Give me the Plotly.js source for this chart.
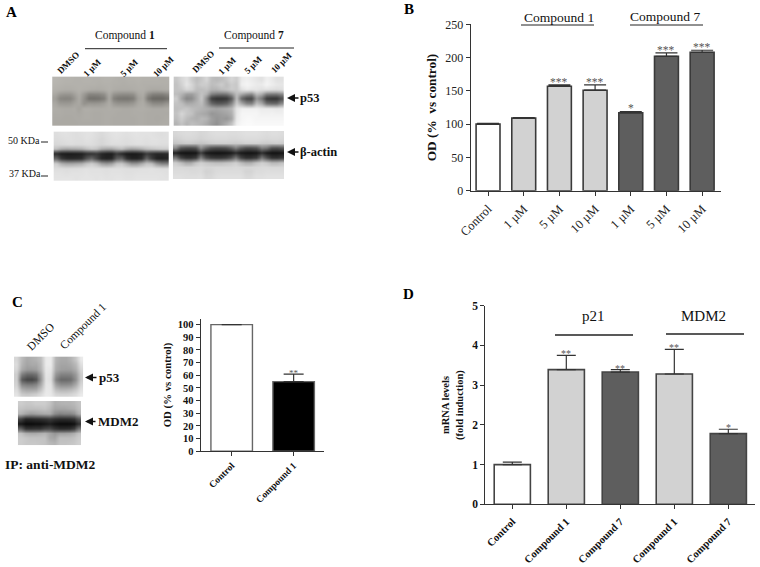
<!DOCTYPE html>
<html><head><meta charset="utf-8">
<script src="https://cdn.plot.ly/plotly-3.0.1.min.js"></script>
<style>html,body{margin:0;padding:0;background:#fff}</style></head>
<body><div id="chart" style="width:760px;height:567px"></div>
<script>
// ---------- Panel B ----------
const labelsB = ['Control','1 µM','5 µM','10 µM','1 µM','5 µM','10 µM'];
const valuesB = [100,109,157,151,117,202,208];
const errorsB = [1,1,2,8,2,5,3];
const starsB  = ['','','***','***','*','***','***'];
const colorsB = ['#ffffff','#d2d2d2','#d2d2d2','#d2d2d2','#5e5e5e','#5e5e5e','#5e5e5e'];
// ---------- Panel C ----------
const labelsC = ['Control','Compound 1'];
const valuesC = [100,55];
const errorsC = [0,6];
const starsC  = ['','**'];
const colorsC = ['#ffffff','#000000'];
// ---------- Panel D ----------
const labelsD = ['Control','Compound 1','Compound 7','Compound 1','Compound 7'];
const valuesD = [1,3.39,3.33,3.28,1.78];
const errorsD = [0.06,0.36,0.06,0.62,0.11];
const starsD  = ['','**','**','**','*'];
const colorsD = ['#ffffff','#d2d2d2','#5e5e5e','#d2d2d2','#5e5e5e'];

// ---------- Blot densities, read by eye (0 = black, 255 = white) ----------
const blotP53C1 = [
[182,180,178,178,176,176,178,178,176,176,178,178,176,174,174,176,176,178,176,176,176,176,174,176],
[180,178,176,176,176,176,176,176,176,174,176,176,174,174,172,174,174,176,174,174,174,174,174,174],
[176,174,172,172,174,176,174,172,170,170,172,176,172,170,170,170,172,174,174,170,168,168,170,172],
[166,150,146,146,158,172,150,128,128,130,140,170,145,138,136,136,140,166,170,138,124,122,122,132],
[156,128,124,126,146,168,138,104,102,106,118,166,122,110,108,108,116,158,166,112,94,92,92,104],
[166,150,148,150,160,166,140,148,146,148,156,170,150,142,142,142,148,166,170,150,134,132,134,146],
[172,170,168,168,170,160,172,172,170,170,170,172,170,170,168,168,170,172,172,170,168,168,168,170],
[170,170,168,168,168,166,170,170,168,168,170,170,170,168,168,168,170,170,170,168,168,168,168,168],
[168,168,166,166,168,168,170,170,168,168,170,170,168,168,168,168,168,170,170,168,168,166,168,170],
[166,166,166,166,166,168,168,168,168,168,170,170,168,168,168,168,168,170,170,168,168,168,170,170]];
const blotP53C7 = [
[200,215,225,205,190,200,215,190,185,190,200,215,205,235,240,235,230,225,240,235,225,225],
[195,210,230,215,195,205,205,190,195,205,190,205,200,240,245,240,235,235,245,238,232,230],
[195,200,215,210,190,190,195,180,180,190,195,205,200,225,235,230,230,225,228,225,222,225],
[190,180,160,158,175,195,178,130,120,118,122,150,190,170,150,140,190,175,130,125,125,140],
[205,165,135,140,170,200,140,62,50,50,55,90,190,105,75,70,150,120,60,52,52,80],
[195,190,170,172,180,190,150,105,90,90,100,135,205,170,135,130,190,170,115,105,105,140],
[190,195,200,190,185,180,175,170,165,170,175,185,230,240,240,240,240,235,235,235,232,235],
[195,215,200,195,175,170,165,150,155,160,165,175,232,245,245,245,245,240,240,242,240,240],
[190,205,190,180,175,185,180,160,150,155,150,165,235,245,248,248,245,245,245,245,245,245],
[180,195,180,190,185,180,170,155,145,160,175,195,240,248,250,250,248,248,248,248,248,248]];
const blotActinC1 = [
[222,225,226,224,222,224,226,226,222,218,222,226,228,226,224,226,228,226,226,226,224,222,224],
[220,222,224,224,222,222,226,224,220,214,220,224,226,224,222,224,226,226,224,226,226,224,224],
[216,218,220,222,220,220,222,222,218,214,218,222,222,222,220,222,224,224,222,224,224,222,222],
[190,170,165,168,170,175,190,200,195,172,165,165,180,190,170,160,165,175,190,195,200,205,205],
[45,30,28,28,30,32,48,50,58,40,32,30,58,42,28,26,28,34,60,48,40,40,42],
[100,55,42,40,42,46,82,105,70,40,34,38,90,100,50,34,34,44,100,60,34,30,34],
[205,175,165,165,170,175,195,205,190,160,150,160,195,200,175,150,150,170,195,190,150,130,130],
[222,222,220,222,222,224,226,224,224,224,222,224,224,224,222,222,222,224,224,226,224,222,222],
[226,226,224,226,226,226,228,226,226,226,224,226,226,226,224,224,226,226,226,226,226,226,224],
[228,228,228,228,226,228,228,228,226,228,226,226,228,228,226,226,228,228,228,228,228,226,226]];
const blotActinC7 = [
[215,218,220,220,218,214,216,220,222,222,222,220,220,222,224,224,224,222,220,222,222,220],
[208,212,216,216,214,210,214,216,218,218,218,216,216,218,220,220,220,218,216,218,218,216],
[195,198,202,202,198,196,198,204,206,206,206,204,202,204,208,208,208,204,202,204,206,204],
[140,90,80,78,85,145,110,85,78,78,82,100,130,100,82,80,88,130,120,85,82,92],
[35,22,20,20,22,65,30,22,20,20,22,26,45,26,22,20,24,48,28,20,20,24],
[120,68,50,48,60,130,80,60,55,55,62,80,120,70,50,50,62,120,80,52,50,60],
[205,190,170,170,195,208,200,195,190,190,195,200,208,190,175,175,195,208,200,185,185,195],
[216,216,214,214,216,218,214,214,216,216,216,216,218,216,214,214,216,218,218,216,216,216],
[220,220,220,218,218,220,210,212,218,220,220,220,220,220,212,212,220,220,222,222,222,222],
[224,224,222,222,222,224,216,216,222,224,224,224,224,224,218,218,224,224,226,226,226,226]];
const blotIpP53 = [
[215,185,170,175,180,190,235,235,180,170,170,180,200,235],
[220,180,165,170,170,185,235,235,175,165,165,170,185,225],
[215,170,155,155,160,180,232,230,170,160,158,160,175,215],
[205,125,105,105,115,160,230,225,150,130,130,132,155,205],
[205,90,70,68,85,150,228,222,130,105,105,110,145,205],
[210,135,125,125,135,170,230,228,160,140,140,145,170,215],
[220,175,165,165,170,195,232,230,190,180,180,185,200,225],
[228,205,200,205,210,220,235,232,215,212,212,215,222,235]];
const blotIpMdm2 = [
[205,200,200,205,205,205,195,175,178,180,180,185,195],
[195,190,190,190,192,195,185,165,165,165,170,175,190],
[180,165,155,160,165,170,170,140,130,135,135,145,175],
[70,40,42,45,48,52,60,50,45,45,48,55,90],
[25,12,12,15,15,22,30,18,12,12,12,18,50],
[100,55,52,55,55,70,75,55,45,45,48,65,120],
[195,175,170,170,175,180,165,150,160,160,165,175,195],
[205,200,195,195,195,195,170,165,190,190,190,195,205],
[205,200,200,200,198,195,185,180,195,195,198,200,208]];
const grey  = [[0,'#000000'],[1,'#ffffff']];
const warm  = [[0,'#1a1814'],[1,'#f8f6f0']];

// ---------- page text ----------
const panelLetters = [['A',11,12],['B',409,9],['C',17,302],['D',408,294]];

const xd=(l,r)=>[l/760,r/760], yd=(t,b)=>[1-b/567,1-t/567];
const axFont=(size,bold)=>({family:'"Liberation Serif",serif',size:size,color:bold?'#111':'#222',weight:bold?700:400});

function bars(labels,values,errors,colors,xa,ya,capw,lw,lc){
  return {type:'bar',x:labels.map((_,i)=>i),y:values,xaxis:xa,yaxis:ya,width:0.67,showlegend:false,
    marker:{color:colors,line:{color:lc,width:lw}},
    error_y:{type:'data',symmetric:false,array:errors,arrayminus:errors.map(()=>0),color:'#333',thickness:1.2,width:capw}};
}
function blot(z,x0,dx,y0,dy,cs){
  return {type:'heatmap',z:z,x0:x0,dx:dx,y0:y0,dy:dy,xaxis:'x4',yaxis:'y4',zmin:0,zmax:255,colorscale:cs,showscale:false,zsmooth:'best',hoverinfo:'skip'};
}
const data=[
  bars(labelsB,valuesB,errorsB,colorsB,'x','y',11,1.6,'#3a3a3a'),
  bars(labelsC,valuesC,errorsC,colorsC,'x2','y2',10,1.4,'#666'),
  bars(labelsD,valuesD,errorsD,colorsD,'x3','y3',9.5,1.6,'#444'),
  blot(blotP53C1,54.7,4.88,79.1,4.86,warm),
  blot(blotP53C7,176.2,5,79.1,4.86,grey),
  blot(blotActinC1,56.2,4.98,134.1,4.85,grey),
  blot(blotActinC7,175.5,5.03,133.4,4.8,grey),
  blot(blotIpP53,16.5,4.9,359.2,5,grey),
  blot(blotIpMdm2,20.4,4.87,403.5,4.92,grey)
];

const ann=[];
function page(text,x,y,size,opt){
  ann.push(Object.assign({xref:'x4',yref:'y4',x:x,y:y,text:text,showarrow:false,xanchor:'center',yanchor:'middle',
    font:{family:'"Liberation Serif",serif',size:size,color:'#111'}},opt||{}));
}
function arrow(x0,x1,y){
  ann.push({xref:'x4',yref:'y4',axref:'x4',ayref:'y4',x:x0,y:y,ax:x1,ay:y,text:'',showarrow:true,arrowhead:2,arrowsize:1,arrowwidth:1.6,arrowcolor:'#111'});
}
panelLetters.forEach(p=>page('<b>'+p[0]+'</b>',p[1],p[2],15,{font:{family:'"Liberation Serif",serif',size:15,color:'#000'}}));
// Panel A
page('Compound <b>1</b>',125,35,11.5);
page('Compound <b>7</b>',254,35,11.5);
[['DMSO',68,63],['1 µM',92,68],['5 µM',129,68],['10 µM',163,67],['DMSO',203,62],['1 µM',227,66],['5 µM',253,65],['10 µM',281,63]]
  .forEach(l=>page('<b>'+l[0]+'</b>',l[1],l[2],9,{textangle:-45}));
page('<b>p53</b>',298,98,12.5,{xanchor:'left'});
page('<b>β-actin</b>',298,152,12.5,{xanchor:'left'});
page('50 KDa',24,140,10);
page('37 KDa',25,173,10);
arrow(287,300,98); arrow(287,300,152);
// Panel B
page('Compound 1',559,17,13.5);
page('Compound 7',665,16,13.5);
// Panel C
page('DMSO',40,337,11.5,{textangle:-45});
page('Compound 1',83,326,11.5,{textangle:-45});
page('<b>p53</b>',97,377.5,13,{xanchor:'left'});
page('<b>MDM2</b>',96,421.5,13,{xanchor:'left'});
page('<b>IP: anti-MDM2</b>',3,464,13.5,{xanchor:'left'});
arrow(85,98,377.5); arrow(85,97,421.5);
// Panel D
page('p21',593,316,15);
page('MDM2',703,316,15);

function stars(list,values,errors,xa,ya,shift,size){
  list.forEach((s,i)=>{ if(s) ann.push({xref:xa,yref:ya,x:i,y:values[i]+errors[i],text:s,showarrow:false,yanchor:'bottom',yshift:shift,
    font:{family:'"Liberation Serif",serif',size:size,color:'#555'}}); });
}
stars(starsB,valuesB,errorsB,'x','y',-5,11.5);
stars(starsC,valuesC,errorsC,'x2','y2',-6,9);
stars(starsD,valuesD,errorsD,'x3','y3',-6,10);

const line=(x0,x1,y,w)=>({type:'line',xref:'x4',yref:'y4',x0:x0,x1:x1,y0:y,y1:y,line:{color:'#222',width:w}});
const shapes=[line(85,167,48.7,1),line(219,294,48,1),line(41,48,142,1),line(41,48,176,1),
  line(521,594,25,1),line(630,703,25,1),line(555,633,335,1.6),line(666,744,334,1.6)];

function xax(dom,range,labels,size,bold,off){
  return {domain:dom,range:range,tickmode:'array',tickvals:labels.map((_,i)=>i),ticktext:labels,tickangle:-45,
    showgrid:false,zeroline:false,showline:true,linecolor:'#333',linewidth:1,ticks:'outside',ticklen:4,tickcolor:'#333',
    tickfont:axFont(size,bold),ticklabelstandoff:off,fixedrange:true};
}
function yax(dom,range,dtick,size,bold,title,tsize,standoff){
  return {domain:dom,range:range,dtick:dtick,tick0:0,showgrid:false,zeroline:false,showline:true,linecolor:'#333',linewidth:1,
    ticks:'outside',ticklen:4,tickcolor:'#333',tickfont:axFont(size,bold),fixedrange:true,
    title:{text:title,standoff:standoff,font:axFont(tsize,true)}};
}
const layout={width:760,height:567,margin:{l:0,r:0,t:0,b:0},paper_bgcolor:'#fff',plot_bgcolor:'rgba(0,0,0,0)',showlegend:false,bargap:0.33,
  font:{family:'"Liberation Serif",serif'},
  xaxis:Object.assign(xax(xd(470.7,720.7),[-0.486,6.52],labelsB,12.5,false,1),{anchor:'y'}),
  yaxis:Object.assign(yax(yd(24.3,190.7),[0,250],50,12,false,'OD (%  vs control)',13.3,5),{anchor:'x'}),
  xaxis2:Object.assign(xax(xd(200.7,324),[-0.5,1.49],labelsC,9.5,true,0),{anchor:'y2'}),
  yaxis2:Object.assign(yax(yd(318.7,451.3),[0,104.7],10,10.5,true,'OD (% vs control)',10.8,4),{anchor:'x2'}),
  xaxis3:Object.assign(xax(xd(485.3,755),[-0.5,4.494],labelsD,10.6,true,2),{anchor:'y3'}),
  yaxis3:Object.assign(yax(yd(305.7,504.3),[0,5],1,11.5,true,'mRNA levels<br>(fold induction)',10.5,6),{anchor:'x3'}),
  xaxis4:{domain:[0,1],range:[0,760],visible:false,fixedrange:true,anchor:'y4'},
  yaxis4:{domain:[0,1],range:[567,0],visible:false,fixedrange:true,anchor:'x4'},
  annotations:ann,shapes:shapes};
Plotly.newPlot('chart',data,layout,{displayModeBar:false,responsive:false});
</script></body></html>
